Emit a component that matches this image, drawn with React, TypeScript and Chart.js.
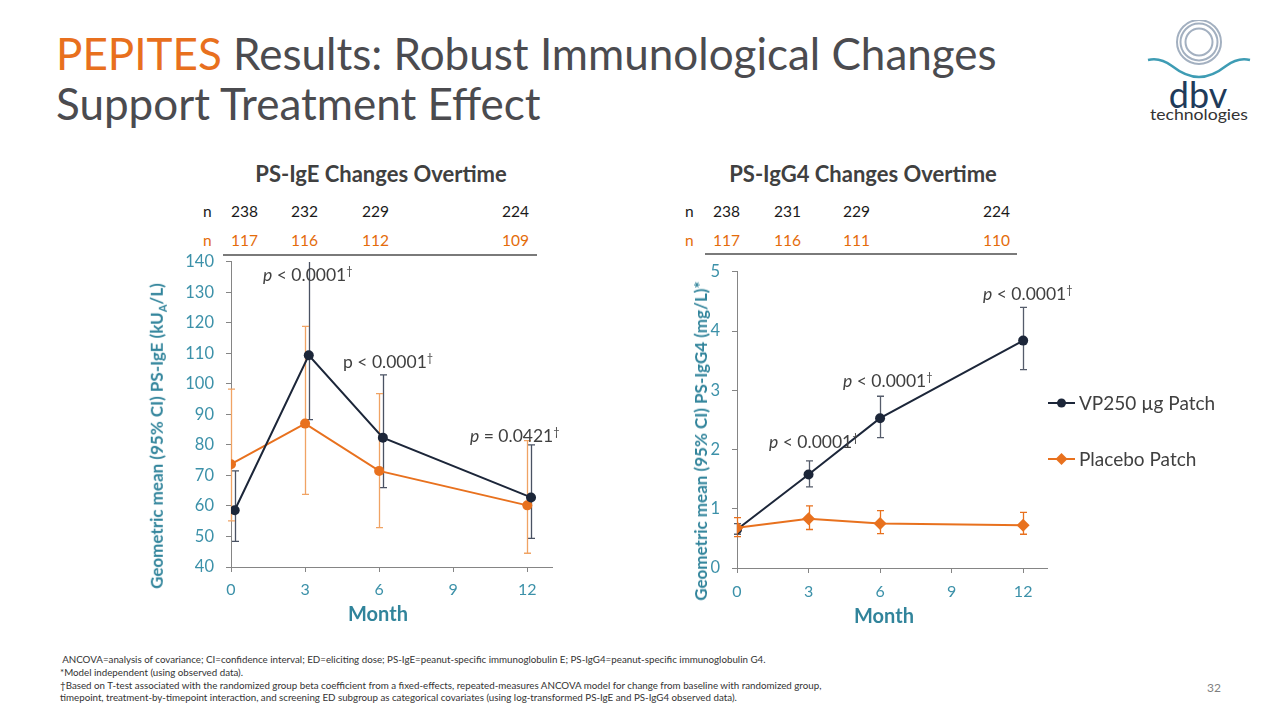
import React, { useEffect, useRef } from 'react';
import { Chart, registerables } from 'chart.js';

Chart.register(...registerables);
Chart.defaults.font.family = 'Lato, "Open Sans", sans-serif';

const FONT = 'Lato, "Open Sans", sans-serif';
const TEAL = '#31849B';
const TICK_TEAL = '#3C91A9';
const NAVY = '#1C2639';
const ORANGE = '#E8711E';
const AXIS_GRAY = '#858585';
const TEXT_GRAY = '#404040';

// ---------- data ----------
const seriesNames = ['VP250 µg Patch', 'Placebo Patch'];
const xAxisTitle = 'Month';

// PS-IgE (kUA/L)
const igeVpMonths = [0.15, 3.15, 6.15, 12.15];
const igeVp = [58.6, 109.4, 82.4, 62.8];
const igeVpLow = [48.4, 88.3, 66.0, 49.4];
const igeVpHigh = [71.5, 141.0, 103.0, 80.0];
const igePlMonths = [0, 3, 6, 12];
const igePl = [73.7, 87.0, 71.5, 60.2];
const igePlLow = [55.1, 63.8, 52.9, 44.5];
const igePlHigh = [98.3, 118.9, 96.8, 81.4];

// PS-IgG4 (mg/L)
const igg4Months = [0, 3, 6, 12];
const igg4Vp = [0.65, 1.58, 2.53, 3.84];
const igg4VpLow = [0.57, 1.37, 2.2, 3.35];
const igg4VpHigh = [0.75, 1.81, 2.9, 4.4];
const igg4Pl = [0.68, 0.83, 0.75, 0.72];
const igg4PlLow = [0.53, 0.65, 0.58, 0.57];
const igg4PlHigh = [0.85, 1.05, 0.97, 0.94];

// n rows
const igeNVp = ['238', '232', '229', '224'];
const igeNPl = ['117', '116', '112', '109'];
const igg4NVp = ['238', '231', '229', '224'];
const igg4NPl = ['117', '116', '111', '110'];

// p-values
const igePValues = ['< 0.0001', '< 0.0001', '= 0.0421'];
const igg4PValues = ['< 0.0001', '< 0.0001', '< 0.0001'];

const footnotes = [
  ' ANCOVA=analysis of covariance; CI=confidence interval; ED=eliciting dose; PS-IgE=peanut-specific immunoglobulin E; PS-IgG4=peanut-specific immunoglobulin G4.',
  '*Model independent (using observed data).',
  '\u2020Based on T-test associated with the randomized group beta coefficient from a fixed-effects, repeated-measures ANCOVA model for change from baseline with randomized group,',
  'timepoint, treatment-by-timepoint interaction, and screening ED subgroup as categorical covariates (using log-transformed PS-IgE and PS-IgG4 observed data).',
];

// ---------- layout (positions only) ----------
const igeNCols = [231, 291, 362, 502];
const igg4NCols = [713, 774, 843, 983];
const igePPos = [
  { left: 263, cy: 270, italic: true },
  { left: 343, cy: 357, italic: false },
  { left: 470, cy: 431, italic: true },
];
const igg4PPos = [
  { left: 983, cy: 289, italic: true },
  { left: 843, cy: 376, italic: true },
  { left: 769, cy: 437, italic: true },
];

// ---------- plugins ----------
const errorBarPlugin = {
  id: 'errorBars',
  beforeDatasetsDraw(chart: any) {
    const { ctx, chartArea, scales } = chart;
    ctx.save();
    ctx.beginPath();
    ctx.rect(chartArea.left - 30, chartArea.top, chartArea.right - chartArea.left + 60, chartArea.bottom - chartArea.top);
    ctx.clip();
    chart.data.datasets.forEach((ds: any, di: number) => {
      if (!ds.errLow) return;
      const meta = chart.getDatasetMeta(di);
      ctx.strokeStyle = ds.errColor;
      ctx.lineWidth = 1.3;
      const cap = 3.5;
      meta.data.forEach((pt: any, i: number) => {
        const x = Math.round(pt.x) + 0.5;
        const yl = scales.y.getPixelForValue(ds.errLow[i]);
        const yh = scales.y.getPixelForValue(ds.errHigh[i]);
        ctx.beginPath();
        ctx.moveTo(x, yl);
        ctx.lineTo(x, yh);
        ctx.moveTo(x - cap, yl);
        ctx.lineTo(x + cap, yl);
        ctx.moveTo(x - cap, yh);
        ctx.lineTo(x + cap, yh);
        ctx.stroke();
      });
    });
    ctx.restore();
  },
};

function drawMarker(ctx: CanvasRenderingContext2D, style: string, x: number, y: number, r: number, color: string) {
  ctx.fillStyle = color;
  ctx.beginPath();
  if (style === 'rectRot') {
    ctx.moveTo(x, y - r);
    ctx.lineTo(x + r, y);
    ctx.lineTo(x, y + r);
    ctx.lineTo(x - r, y);
    ctx.closePath();
  } else {
    ctx.arc(x, y, r, 0, Math.PI * 2);
  }
  ctx.fill();
}

const sideLegendPlugin = {
  id: 'sideLegend',
  afterDraw(chart: any, _args: any, opts: any) {
    const { ctx } = chart;
    ctx.save();
    chart.data.datasets.forEach((ds: any, i: number) => {
      const y = opts.ys[i];
      const x0 = opts.x;
      ctx.strokeStyle = ds.borderColor;
      ctx.lineWidth = 2;
      ctx.beginPath();
      ctx.moveTo(x0, y);
      ctx.lineTo(x0 + opts.lineLen, y);
      ctx.stroke();
      drawMarker(ctx, ds.pointStyle, x0 + opts.lineLen / 2, y, ds.pointStyle === 'rectRot' ? 6 : 4.5, ds.borderColor);
      ctx.fillStyle = TEXT_GRAY;
      ctx.font = `19px ${FONT}`;
      ctx.textBaseline = 'middle';
      ctx.textAlign = 'left';
      ctx.fillText(ds.label, x0 + opts.lineLen + 4, y + 1);
    });
    ctx.restore();
  },
};

// ---------- scale builders ----------
function xAxis(height: number, labelPad: number) {
  return {
    type: 'linear',
    min: 0,
    max: 13,
    ticks: { stepSize: 3, includeBounds: false, color: TICK_TEAL, font: { size: 16 }, padding: labelPad, maxRotation: 0 },
    grid: { drawOnChartArea: false, tickLength: 5, color: AXIS_GRAY },
    border: { color: AXIS_GRAY, width: 1 },
    afterFit: (s: any) => {
      s.height = height;
    },
  };
}

function yAxis(min: number, max: number, step: number, width: number) {
  return {
    type: 'linear',
    min,
    max,
    ticks: { stepSize: step, color: TICK_TEAL, font: { size: 16.5 }, padding: 12 },
    grid: { drawOnChartArea: false, tickLength: 5, color: AXIS_GRAY },
    border: { color: AXIS_GRAY, width: 1 },
    afterFit: (s: any) => {
      s.width = width;
    },
  };
}

function lineDs(label: string, xs: number[], ys: number[], low: number[], high: number[], color: string, errColor: string, style: string, radius: number, order: number) {
  return {
    label,
    data: xs.map((x, i) => ({ x, y: ys[i] })),
    borderColor: color,
    backgroundColor: color,
    borderWidth: 2,
    pointStyle: style,
    pointRadius: radius,
    pointBorderWidth: 0,
    pointBackgroundColor: color,
    errLow: low,
    errHigh: high,
    errColor,
    order,
  };
}

function igeConfig(): any {
  return {
    type: 'line',
    data: {
      datasets: [
        lineDs(seriesNames[0], igeVpMonths, igeVp, igeVpLow, igeVpHigh, NAVY, '#4A5263', 'circle', 5, 0),
        lineDs(seriesNames[1], igePlMonths, igePl, igePlLow, igePlHigh, ORANGE, '#F0A364', 'circle', 5, 1),
      ],
    },
    options: {
      responsive: false,
      animation: false,
      layout: { padding: { top: 16, right: 18, bottom: 0, left: 0 } },
      scales: { x: xAxis(73, 8), y: yAxis(40, 140, 10, 81) },
      plugins: { legend: { display: false }, tooltip: { enabled: false } },
    },
    plugins: [errorBarPlugin],
  };
}

function igg4Config(): any {
  return {
    type: 'line',
    data: {
      datasets: [
        lineDs(seriesNames[0], igg4Months, igg4Vp, igg4VpLow, igg4VpHigh, NAVY, '#555C6B', 'circle', 5, 1),
        lineDs(seriesNames[1], igg4Months, igg4Pl, igg4PlLow, igg4PlHigh, ORANGE, ORANGE, 'rectRot', 6.5, 0),
      ],
    },
    options: {
      responsive: false,
      animation: false,
      layout: { padding: { top: 16, right: 193, bottom: 0, left: 0 } },
      scales: { x: xAxis(72, 9), y: yAxis(0, 5, 1, 77) },
      plugins: {
        legend: { display: false },
        tooltip: { enabled: false },
        sideLegend: { x: 388, ys: [153, 209], lineLen: 27 },
      },
    },
    plugins: [errorBarPlugin, sideLegendPlugin],
  };
}

// ---------- components ----------
function ChartBox({ left, top, width, height, build }: { left: number; top: number; width: number; height: number; build: () => any }) {
  const ref = useRef<HTMLCanvasElement>(null);
  useEffect(() => {
    const chart = new Chart(ref.current as HTMLCanvasElement, build());
    return () => chart.destroy();
  }, []);
  return <canvas ref={ref} width={width} height={height} style={{ position: 'absolute', left, top, width, height }} />;
}

function Text({ left, cy, size, color, children, style }: any) {
  const lh = Math.round(size * 1.3);
  return (
    <div style={{ position: 'absolute', left, top: cy - lh / 2, fontSize: size, lineHeight: `${lh}px`, color, whiteSpace: 'nowrap', ...style }}>
      {children}
    </div>
  );
}

function NRows({ cols, nLeft, vp, pl }: { cols: number[]; nLeft: number; vp: string[]; pl: string[] }) {
  return (
    <>
      <Text left={nLeft} cy={211} size={15.5} color="#1A1A1A">n</Text>
      <Text left={nLeft} cy={240} size={15.5} color="#E46C0A">n</Text>
      {vp.map((v, i) => (
        <Text key={'v' + i} left={cols[i]} cy={211} size={15.5} color="#1A1A1A">{v}</Text>
      ))}
      {pl.map((v, i) => (
        <Text key={'p' + i} left={cols[i]} cy={240} size={15.5} color="#E46C0A">{v}</Text>
      ))}
    </>
  );
}

function PNote({ left, cy, italic, value }: any) {
  return (
    <Text left={left} cy={cy} size={17.5} color={TEXT_GRAY}>
      <span style={{ fontStyle: italic ? 'italic' : 'normal' }}>p</span> {value}
      <span style={{ fontSize: 11, verticalAlign: '6px' }}>{'\u2020'}</span>
    </Text>
  );
}

function RotTitle({ cx, cy, children }: any) {
  return (
    <div
      style={{
        position: 'absolute',
        left: cx,
        top: cy,
        transform: 'translate(-50%, -50%) rotate(-90deg)',
        fontSize: 17,
        fontWeight: 700,
        color: TEAL,
        whiteSpace: 'nowrap',
        lineHeight: '20px',
      }}
    >
      {children}
    </div>
  );
}

function CenterText({ cx, cy, size, weight, color, children }: any) {
  return (
    <div style={{ position: 'absolute', left: cx, top: cy, transform: 'translate(-50%, -50%)', fontSize: size, fontWeight: weight, color, whiteSpace: 'nowrap', lineHeight: 1.2 }}>
      {children}
    </div>
  );
}

function Logo() {
  return (
    <svg width={120} height={120} style={{ position: 'absolute', left: 1140, top: 20 }}>
      <circle cx={59} cy={22} r={22} fill="none" stroke="#A3B0C0" strokeWidth={2} />
      <circle cx={59} cy={22} r={18.5} fill="none" stroke="#A3B0C0" strokeWidth={2} />
      <circle cx={59} cy={22} r={13.5} fill="none" stroke="#A3B0C0" strokeWidth={2} />
      <path d="M8,40 Q20,37 32,46 Q46,57 59,57 Q72,57 86,46 Q98,37 110,40" fill="none" stroke="#3E9CB4" strokeWidth={2.5} />
      <text x={58} y={88} textAnchor="middle" fontSize={36} fill="#1F3B5A" style={{ fontFamily: FONT }}>dbv</text>
      <text x={10} y={100} textLength={98} lengthAdjust="spacingAndGlyphs" fontSize={16} fill="#333" style={{ fontFamily: FONT }}>technologies</text>
    </svg>
  );
}

export default function App() {
  return (
    <div style={{ position: 'absolute', left: 0, top: 0, width: 1280, height: 720, overflow: 'hidden', background: '#fff', fontFamily: FONT }}>
      {/* title */}
      <div style={{ position: 'absolute', left: 56, top: 28, fontSize: 44, lineHeight: '50px', color: '#4B4B4F', whiteSpace: 'nowrap' }}>
        <span style={{ color: '#E8701E' }}>PEPITES</span> Results: Robust Immunological Changes
        <br />
        Support Treatment Effect
      </div>
      <Logo />

      {/* chart titles */}
      <CenterText cx={381} cy={174} size={22} weight={700} color={TEXT_GRAY}>PS-IgE Changes Overtime</CenterText>
      <CenterText cx={863} cy={174} size={22} weight={700} color={TEXT_GRAY}>PS-IgG4 Changes Overtime</CenterText>

      <NRows cols={igeNCols} nLeft={203} vp={igeNVp} pl={igeNPl} />
      <NRows cols={igg4NCols} nLeft={685} vp={igg4NVp} pl={igg4NPl} />

      <ChartBox left={150} top={240} width={420} height={400} build={igeConfig} />
      <ChartBox left={660} top={250} width={580} height={390} build={igg4Config} />

      {/* separator lines under n rows */}
      <div style={{ position: 'absolute', left: 223, top: 254, width: 314, height: 2, background: '#7A7A7A' }} />
      <div style={{ position: 'absolute', left: 705, top: 253, width: 312, height: 2, background: '#7A7A7A' }} />

      <RotTitle cx={160} cy={436}>
        Geometric mean (95% CI) PS-IgE (kU<sub style={{ fontSize: 11 }}>A</sub>/L)
      </RotTitle>
      <RotTitle cx={701} cy={441}>Geometric mean (95% CI) PS-IgG4 (mg/L)*</RotTitle>

      <CenterText cx={378} cy={613} size={20} weight={700} color={TEAL}>{xAxisTitle}</CenterText>
      <CenterText cx={884} cy={615} size={20} weight={700} color={TEAL}>{xAxisTitle}</CenterText>

      {igePValues.map((v, i) => (
        <PNote key={'e' + i} {...igePPos[i]} value={v} />
      ))}
      {igg4PValues.map((v, i) => (
        <PNote key={'g' + i} {...igg4PPos[i]} value={v} />
      ))}

      {/* footnotes */}
      <div style={{ position: 'absolute', left: 60, top: 653, fontSize: 9.75, lineHeight: '12.8px', color: '#333', whiteSpace: 'pre' }}>
        {footnotes.map((f, i) => (
          <div key={i}>{f}</div>
        ))}
      </div>
      <div style={{ position: 'absolute', left: 1207, top: 680, fontSize: 12, color: '#7F7F7F' }}>32</div>
    </div>
  );
}
